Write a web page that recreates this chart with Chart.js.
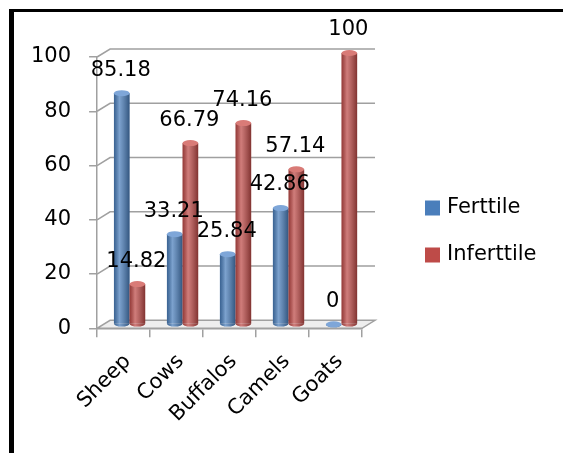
<!DOCTYPE html>
<html>
<head>
<meta charset="utf-8">
<script src="https://cdn.jsdelivr.net/npm/chart.js@4.4.1/dist/chart.umd.min.js"></script>
<style>
  html, body { margin: 0; padding: 0; background: #fff; }
  #wrap { position: relative; width: 563px; height: 453px; }
  #chart { position: absolute; left: 0; top: 0; }
  #frame {
    position: absolute; left: 9px; top: 9px; right: 0; bottom: 0;
    border-top: 3px solid #000; border-left: 5px solid #000;
    pointer-events: none;
  }
</style>
</head>
<body>
<div id="wrap">
  <canvas id="chart" width="563" height="453"></canvas>
  <div id="frame"></div>
</div>
<script>
const categories = ['Sheep', 'Cows', 'Buffalos', 'Camels', 'Goats'];
const fertile = [85.18, 33.21, 25.84, 42.86, 0];
const infertile = [14.82, 66.79, 74.16, 57.14, 100];
const seriesNames = ['Ferttile', 'Inferttile'];
const yMin = 0, yMax = 100, yStep = 20;

const FONT = "'DejaVu Sans', sans-serif";
const seriesColors = ['#4a7ebb', '#be4b48'];
const capColors = ['#7ea6d8', '#d97b77'];
const gridColor = '#a0a0a0';
const depthX = 13, depthY = -8;
// bars stand in the middle of the fake depth
const barDX = 6, barDY = -4;

const fakeDepth = {
    id: 'fakeDepth',
    beforeDatasetsDraw: function (chart) {
        const { ctx, chartArea, scales } = chart;
        const y = scales.y;
        ctx.save();
        // floor
        const fy = y.getPixelForValue(yMin);
        ctx.beginPath();
        ctx.moveTo(chartArea.left, fy);
        ctx.lineTo(chartArea.right, fy);
        ctx.lineTo(chartArea.right + depthX, fy + depthY);
        ctx.lineTo(chartArea.left + depthX, fy + depthY);
        ctx.closePath();
        ctx.fillStyle = '#eeeeee';
        ctx.fill();
        ctx.strokeStyle = gridColor;
        ctx.lineWidth = 1.5;
        ctx.stroke();
        // back wall lines
        for (let v = yMin + yStep; v <= yMax; v += yStep) {
            const py = y.getPixelForValue(v);
            ctx.beginPath();
            ctx.moveTo(chartArea.left, py);
            ctx.lineTo(chartArea.left + depthX, py + depthY);
            ctx.lineTo(chartArea.right + depthX, py + depthY);
            ctx.stroke();
        }
        ctx.restore();
    },
    afterDatasetsDraw: function (chart) {
        const { ctx } = chart;
        ctx.save();
        const labels = [];
        chart.data.datasets.forEach((ds, di) => {
            const meta = chart.getDatasetMeta(di);
            meta.data.forEach((bar, i) => {
                const w = bar.width;
                const cx = bar.x + barDX;
                const top = bar.y + barDY;
                const bottom = bar.base + barDY;
                const left = cx - w / 2;
                const g = ctx.createLinearGradient(left, 0, left + w, 0);
                g.addColorStop(0, 'rgba(0,0,0,0.22)');
                g.addColorStop(0.35, 'rgba(255,255,255,0.28)');
                g.addColorStop(1, 'rgba(0,0,0,0.32)');
                // body
                ctx.fillStyle = seriesColors[di];
                ctx.fillRect(left, top, w, bottom - top);
                ctx.beginPath();
                ctx.ellipse(cx, bottom, w / 2, 3, 0, 0, Math.PI);
                ctx.fill();
                ctx.fillStyle = g;
                ctx.fillRect(left, top, w, bottom - top);
                ctx.beginPath();
                ctx.ellipse(cx, bottom, w / 2, 3, 0, 0, Math.PI);
                ctx.fill();
                // top cap
                ctx.fillStyle = capColors[di];
                ctx.beginPath();
                ctx.ellipse(cx, top, w / 2, 3, 0, 0, Math.PI * 2);
                ctx.fill();
                labels.push([String(ds.data[i]), cx - 1, top - 23]);
            });
        });
        // value labels on top of all bars
        ctx.fillStyle = '#000';
        ctx.font = '21px ' + FONT;
        ctx.textAlign = 'center';
        ctx.textBaseline = 'middle';
        labels.forEach(l => ctx.fillText(l[0], l[1], l[2]));
        ctx.restore();
    },
    afterDraw: function (chart) {
        const { ctx, chartArea } = chart;
        ctx.save();
        ctx.font = '21px ' + FONT;
        ctx.textAlign = 'left';
        ctx.textBaseline = 'middle';
        chart.data.datasets.forEach((ds, di) => {
            const lx = chartArea.right + 63;
            const ly = 208 + di * 47;
            ctx.fillStyle = seriesColors[di];
            ctx.fillRect(lx, ly - 7.5, 15, 15);
            ctx.fillStyle = '#000';
            ctx.fillText(ds.label, lx + 22, ly);
        });
        ctx.restore();
    }
};

const ctx = document.getElementById('chart').getContext('2d');
const myChart = new Chart(ctx, {
    type: 'bar',
    data: {
        labels: categories,
        datasets: [{
            label: seriesNames[0],
            data: fertile,
            backgroundColor: 'rgba(0,0,0,0)',
            borderWidth: 0,
            categoryPercentage: 0.59,
            barPercentage: 1.0
        }, {
            label: seriesNames[1],
            data: infertile,
            backgroundColor: 'rgba(0,0,0,0)',
            borderWidth: 0,
            categoryPercentage: 0.59,
            barPercentage: 1.0
        }]
    },
    options: {
        responsive: false,
        animation: false,
        layout: {
            autoPadding: false,
            padding: { left: 13, right: 201, top: 57, bottom: 14 }
        },
        plugins: {
            legend: { display: false },
            tooltip: { enabled: false }
        },
        scales: {
            x: {
                grid: {
                    drawOnChartArea: false,
                    tickLength: 9,
                    color: gridColor,
                    lineWidth: 1.5
                },
                border: { color: gridColor, width: 1.5 },
                ticks: {
                    color: '#000',
                    font: { family: FONT, size: 21 },
                    minRotation: 45,
                    maxRotation: 45,
                    padding: 12,
                    labelOffset: 4
                }
            },
            y: {
                min: yMin,
                max: yMax,
                grid: {
                    drawOnChartArea: false,
                    tickLength: 8,
                    color: gridColor,
                    lineWidth: 1.5
                },
                border: { color: gridColor, width: 1.5 },
                ticks: {
                    stepSize: yStep,
                    color: '#000',
                    font: { family: FONT, size: 21 },
                    padding: 18
                }
            }
        }
    },
    plugins: [fakeDepth]
});
</script>
</body>
</html>
